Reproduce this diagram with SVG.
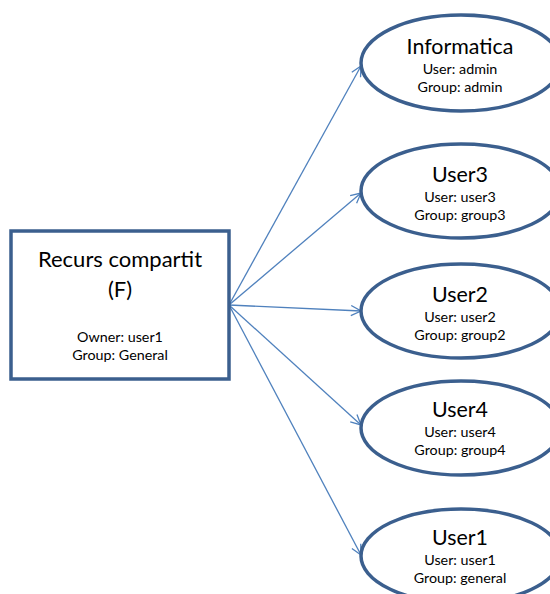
<svg xmlns="http://www.w3.org/2000/svg" width="550" height="594" viewBox="0 0 550 594">
<defs>
<style>
.shape{fill:#ffffff;stroke:#3b5f8e;stroke-width:3.5}
.conn{stroke:#4f81bd;stroke-width:1.3;fill:none;marker-end:url(#arr)}
text{font-family:Lato,"Open Sans","Liberation Sans",sans-serif;fill:#000;text-anchor:middle}
.t{font-size:21.4px}
.r{font-size:22px}
.s{font-size:14.3px}
</style>
<marker id="arr" viewBox="0 0 12 12" refX="11" refY="6" markerWidth="12" markerHeight="12" markerUnits="userSpaceOnUse" orient="auto">
<path d="M1,1 L11,6 L1,11" fill="none" stroke="#4f81bd" stroke-width="1.3"/>
</marker>
</defs>
<rect width="550" height="594" fill="#ffffff"/>
<g id="connectors">
<line class="conn" x1="229" y1="305" x2="361" y2="66"/>
<line class="conn" x1="229" y1="305" x2="361" y2="193"/>
<line class="conn" x1="229" y1="305" x2="361" y2="311"/>
<line class="conn" x1="229" y1="305" x2="361" y2="425"/>
<line class="conn" x1="229" y1="305" x2="361" y2="555"/>
</g>
<g id="recurs">
<rect class="shape" x="11" y="231" width="218" height="148"/>
<text class="r" x="120" y="267">Recurs compartit</text>
<text class="r" x="120" y="297">(F)</text>
<text class="s" x="120" y="342">Owner: user1</text>
<text class="s" x="120" y="360">Group: General</text>
</g>
<g id="informatica">
<ellipse class="shape" cx="461" cy="63" rx="100" ry="48"/>
<text class="t" x="460" y="54">Informatica</text>
<text class="s" x="460" y="74">User: admin</text>
<text class="s" x="460" y="92">Group: admin</text>
</g>
<g id="user3">
<ellipse class="shape" cx="461" cy="191" rx="100" ry="47"/>
<text class="t" x="460" y="182">User3</text>
<text class="s" x="460" y="202">User: user3</text>
<text class="s" x="460" y="220">Group: group3</text>
</g>
<g id="user2">
<ellipse class="shape" cx="461" cy="311" rx="100" ry="47"/>
<text class="t" x="460" y="302">User2</text>
<text class="s" x="460" y="322">User: user2</text>
<text class="s" x="460" y="340">Group: group2</text>
</g>
<g id="user4">
<ellipse class="shape" cx="461" cy="428" rx="100" ry="47"/>
<text class="t" x="460" y="417">User4</text>
<text class="s" x="460" y="437">User: user4</text>
<text class="s" x="460" y="455">Group: group4</text>
</g>
<g id="user1">
<ellipse class="shape" cx="461" cy="556" rx="100" ry="47"/>
<text class="t" x="460" y="545">User1</text>
<text class="s" x="460" y="565">User: user1</text>
<text class="s" x="460" y="583">Group: general</text>
</g>
</svg>
